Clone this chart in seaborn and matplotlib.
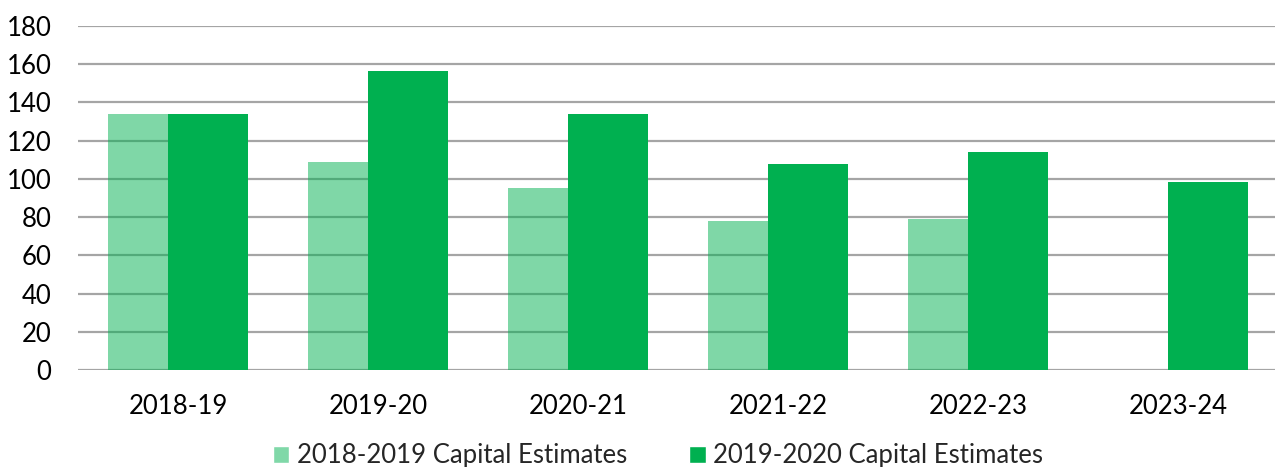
import pandas as pd
import matplotlib
import matplotlib.pyplot as plt
import seaborn as sns
from matplotlib.patches import Patch

matplotlib.use('Agg')

years = ['2018-19', '2019-20', '2020-21', '2021-22', '2022-23', '2023-24']
estimates_2018 = [134, 109, 95, 78, 79, None]
estimates_2019 = [134, 156.5, 134, 108, 114, 98.5]
series_names = ['2018-2019 Capital Estimates', '2019-2020 Capital Estimates']
y_ticks = list(range(0, 181, 20))

GREEN = '#00B050'
LIGHT = '#80D8A8'
GRID = '#A5A5A5'

df = pd.concat([
    pd.DataFrame({'Year': years, 'Value': estimates_2018, 'Series': series_names[0]}),
    pd.DataFrame({'Year': years, 'Value': estimates_2019, 'Series': series_names[1]}),
], ignore_index=True).dropna()

sns.set_style('white')
plt.rcParams['font.family'] = ['Lato', 'DejaVu Sans']

fig = plt.figure(figsize=(12.75, 4.67), dpi=100)
ax = fig.add_axes([78 / 1275, 1 - 370 / 467, 1200 / 1275, 344 / 467])

sns.barplot(data=df, x='Year', y='Value', hue='Series', order=years,
            hue_order=series_names, palette=[GREEN, GREEN], width=0.6,
            dodge=True, saturation=1, legend=False, ax=ax)

# widen bars so the two series overlap like the original
for i, cont in enumerate(ax.containers):
    for bar in cont:
        bar.set_x(bar.get_x() - 0.05)
        bar.set_width(0.4)
        bar.set_linewidth(0)
        if i == 0:
            bar.set_alpha(0.5)

ax.set_xlim(-0.5, 5.5)
ax.set_ylim(0, 180)
ax.set_yticks(y_ticks)
ax.set_axisbelow(True)
ax.yaxis.grid(True, color=GRID, linewidth=1.6)
for s in ax.spines.values():
    s.set_visible(False)
ax.tick_params(axis='both', length=0, labelsize=18.5, colors='black')
ax.tick_params(axis='x', pad=17)
ax.tick_params(axis='y', pad=19)
ax.set_xlabel('')
ax.set_ylabel('')

handles = [Patch(facecolor=LIGHT, label=series_names[0]),
           Patch(facecolor=GREEN, label=series_names[1])]
fig.legend(handles=handles, loc='center', bbox_to_anchor=(658 / 1275, 11 / 467),
           ncol=2, frameon=False, fontsize=18.5, handlelength=0.65, handleheight=0.65,
           handletextpad=0.3, columnspacing=2.4, borderaxespad=0)

fig.savefig('out.png', dpi=100)
